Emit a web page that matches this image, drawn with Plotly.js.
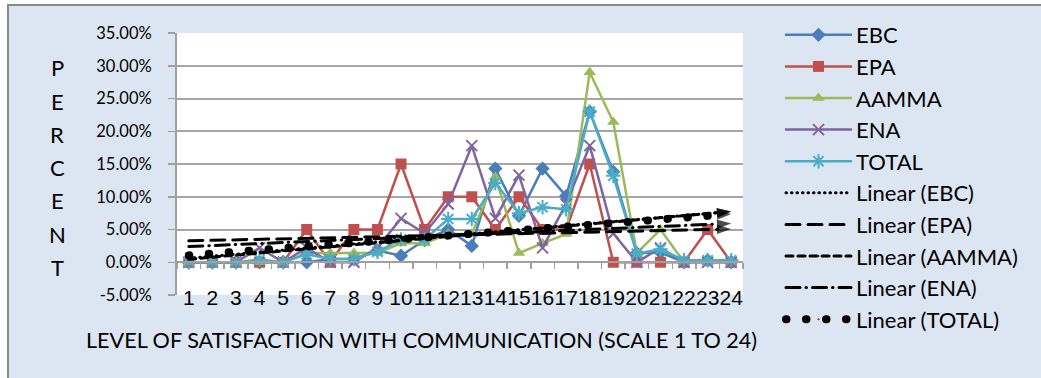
<!DOCTYPE html>
<html>
<head>
<meta charset="utf-8">
<script src="https://cdn.plot.ly/plotly-3.0.1.min.js"></script>
<style>
  html, body { margin: 0; padding: 0; background: #ffffff; }
  #chart { width: 1041px; height: 378px; }
  /* round caps so dotted trend lines draw as round dots */
  .scatterlayer .js-line, .legend .js-line { stroke-linecap: round; }
</style>
</head>
<body>
<div id="chart"></div>
<script>
// Satisfaction level (scale 1 to 24)
const categories = [1, 2, 3, 4, 5, 6, 7, 8, 9, 10, 11, 12, 13, 14, 15, 16, 17, 18, 19, 20, 21, 22, 23, 24];

// Share of respondents per level, in percent
const ebc   = [0, 0, 0, 0, 0, 0, 0.5, 0.5, 1.8, 1.0, 3.4, 5.0, 2.5, 14.3, 7.1, 14.3, 10.1, 23.0, 13.8, 1.4, 1.5, 0, 0.3, 0];
const epa   = [0, 0, 0, 0, 0, 5, 0, 5, 5, 15, 5, 10, 10, 5, 10, 5, 5, 15, 0, 0, 0, 0, 5, 0];
const aamma = [0, 0, 0, 0, 0, 1.4, 1.4, 1.4, 1.4, 2.9, 2.9, 4.3, 4.3, 13.0, 1.4, 2.9, 4.3, 29.0, 21.4, 1.4, 5.0, 0, 0, 0];
const ena   = [0, 0, 0, 2.2, 0, 2.2, 0, 0, 2.2, 6.7, 4.4, 8.9, 17.8, 6.7, 13.3, 2.2, 8.9, 17.8, 4.4, 0, 2.2, 0, 0, 0];
const total = [0, 0, 0, 0.4, 0, 1.2, 0.5, 0.5, 1.6, 3.5, 3.5, 6.6, 6.6, 12.1, 7.5, 8.4, 8.1, 23.0, 13.2, 1.3, 2.0, 0.3, 0.3, 0.3];

const seriesNames = ['EBC', 'EPA', 'AAMMA', 'ENA', 'TOTAL'];
const seriesValues = [ebc, epa, aamma, ena, total];

const yTickVals   = [-5, 0, 5, 10, 15, 20, 25, 30, 35];
const yTickLabels = ['-5.00%', '0.00%', '5.00%', '10.00%', '15.00%', '20.00%', '25.00%', '30.00%', '35.00%'];
const xTickLabels = categories.map(String);

const xTitle = 'LEVEL OF SATISFACTION WITH COMMUNICATION (SCALE 1 TO 24)';
const yTitle = 'PERCENT';

// ---- styling ----
const W = 1041, H = 378;
const PL = 177, PR = 743, PT = 33, PB = 295;           // plot area in px
const px2x = p => (p - PL) / (PR - PL);
const px2y = p => (PB - p) / (PB - PT);

const seriesStyle = [
  { color: '#4a7ebb', symbol: 'diamond',       size: 11, open: false },
  { color: '#c0504d', symbol: 'square',        size: 11, open: false },
  { color: '#9bbb59', symbol: 'triangle-up',   size: 11, open: false },
  { color: '#8064a2', symbol: 'x-thin-open',   size: 11, open: true  },
  { color: '#4bacc6', symbol: 'asterisk-open', size: 12, open: true  }
];

const trendStyle = [
  { dash: '0.5px,5px',          width: 3, start: 'circle'  },
  { dash: '14px,8px',           width: 3, start: 'circle'  },
  { dash: '7px,5px',            width: 3, start: 'circle'  },
  { dash: '14px,6px,0.5px,6px', width: 3, start: 'circle'  },
  { dash: '0.5px,19.5px',       width: 8, start: 'diamond' }
];

// least-squares straight line through a series
function linearFit(xs, ys) {
  const n = xs.length;
  const mx = xs.reduce((a, b) => a + b, 0) / n;
  const my = ys.reduce((a, b) => a + b, 0) / n;
  let sxy = 0, sxx = 0;
  for (let i = 0; i < n; i++) {
    sxy += (xs[i] - mx) * (ys[i] - my);
    sxx += (xs[i] - mx) * (xs[i] - mx);
  }
  const slope = sxy / sxx;
  const icpt = my - slope * mx;
  return xs.map(x => icpt + slope * x);
}

const traces = [];

seriesNames.forEach((name, i) => {
  const s = seriesStyle[i];
  traces.push({
    type: 'scatter', mode: 'lines+markers', name: name,
    x: categories, y: seriesValues[i],
    xaxis: 'x', yaxis: 'y',
    line: { color: s.color, width: 2.5 },
    marker: s.open
      ? { symbol: s.symbol, size: s.size, color: s.color, line: { color: s.color, width: 2 } }
      : { symbol: s.symbol, size: s.size, color: s.color, line: { width: 0 } },
    hoverinfo: 'x+y+name'
  });
});

seriesNames.forEach((name, i) => {
  const t = trendStyle[i];
  const n = categories.length;
  const symbols = categories.map((c, k) => k === 0 ? t.start : (k === n - 1 ? 'arrow' : 'circle'));
  const sizes = categories.map((c, k) => k === 0 ? (t.start === 'diamond' ? 13 : 10) : (k === n - 1 ? 15 : 0));
  traces.push({
    type: 'scatter', mode: 'lines+markers', name: 'Linear (' + name + ')',
    x: categories, y: linearFit(categories, seriesValues[i]),
    xaxis: 'x2', yaxis: 'y',
    line: { color: '#000000', width: t.width, dash: t.dash },
    marker: { symbol: symbols, size: sizes, color: '#000000', angleref: 'previous', line: { width: 0 } },
    hoverinfo: 'skip'
  });
});

const annotations = [];
// stacked vertical letters of the y title
yTitle.split('').forEach((ch, k) => {
  annotations.push({
    xref: 'paper', yref: 'paper', x: px2x(57), y: px2y(68 + k * 33.2),
    xanchor: 'center', yanchor: 'middle', showarrow: false, text: ch,
    font: { family: 'Lato, Liberation Sans, sans-serif', size: 22, color: '#000000' }
  });
});
annotations.push({
  xref: 'paper', yref: 'paper', x: px2x(421), y: px2y(340),
  xanchor: 'center', yanchor: 'middle', showarrow: false, text: xTitle,
  font: { family: 'Lato, Liberation Sans, sans-serif', size: 21.6, color: '#000000' }
});

const shapes = [
  // white page strips outside the chart border
  { type: 'rect', xref: 'paper', yref: 'paper', x0: px2x(-5), x1: px2x(8), y0: px2y(H + 5), y1: px2y(-5),
    fillcolor: '#ffffff', line: { width: 0 }, layer: 'below' },
  { type: 'rect', xref: 'paper', yref: 'paper', x0: px2x(-5), x1: px2x(W + 5), y0: px2y(5), y1: px2y(-5),
    fillcolor: '#ffffff', line: { width: 0 }, layer: 'below' },
  // chart border
  { type: 'rect', xref: 'paper', yref: 'paper', x0: px2x(8), x1: px2x(W + 10), y0: px2y(H + 10), y1: px2y(5),
    line: { color: '#8a8a8a', width: 2 }, fillcolor: 'rgba(0,0,0,0)', layer: 'above' }
];

const layout = {
  width: W, height: H,
  margin: { l: PL, r: W - PR, t: PT, b: H - PB, pad: 0 },
  paper_bgcolor: '#dce6f2',
  plot_bgcolor: '#ffffff',
  showlegend: true,
  legend: {
    x: px2x(781), y: px2y(14), xanchor: 'left', yanchor: 'top',
    bgcolor: 'rgba(0,0,0,0)', borderwidth: 0,
    font: { family: 'Lato, Liberation Sans, sans-serif', size: 22, color: '#000000' },
    itemwidth: 65, tracegroupgap: 0, maxheight: 400
  },
  xaxis: {
    type: 'linear', range: [0.5, 24.5], domain: [0, 1], anchor: 'y',
    tickvals: categories, ticktext: xTickLabels, tickangle: 0,
    showgrid: false, zeroline: false, showline: false, ticks: '',
    tickfont: { family: 'Liberation Sans Narrow, sans-serif', size: 21, color: '#000000' },
    ticklabelstandoff: -12, fixedrange: true
  },
  xaxis2: {
    type: 'linear', range: [0.5, 24.5], overlaying: 'x', anchor: 'free', position: 5 / 40,
    showline: true, linecolor: '#a0a0a0', linewidth: 2,
    ticks: 'outside', ticklen: 6, tickwidth: 1.5, tickcolor: '#a0a0a0', tick0: 0.5, dtick: 1,
    showticklabels: false, showgrid: false, zeroline: false, fixedrange: true
  },
  yaxis: {
    range: [-5, 35], domain: [0, 1],
    tickvals: yTickVals, ticktext: yTickLabels,
    showgrid: true, gridcolor: '#a6a6a6', gridwidth: 2,
    zeroline: false, showline: true, linecolor: '#a0a0a0', linewidth: 2,
    ticks: 'outside', ticklen: 7, tickwidth: 1.5, tickcolor: '#a0a0a0',
    tickfont: { family: 'Lato, Liberation Sans, sans-serif', size: 16.5, color: '#000000' },
    ticklabelstandoff: 13, fixedrange: true
  },
  annotations: annotations,
  shapes: shapes
};

Plotly.newPlot('chart', traces, layout, { displayModeBar: false, staticPlot: true });
</script>
</body>
</html>
